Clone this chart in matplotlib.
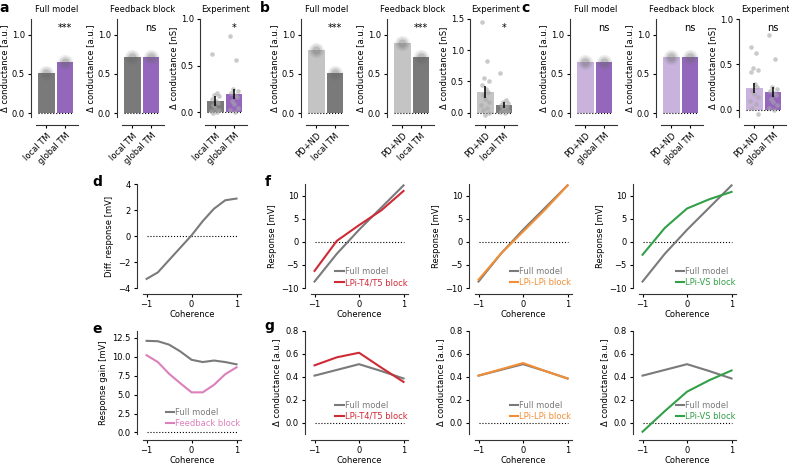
import numpy as np
import matplotlib.pyplot as plt
from matplotlib.transforms import blended_transform_factory

plt.rcParams['font.family'] = 'DejaVu Sans'
plt.rcParams['font.size'] = 6
plt.rcParams['axes.linewidth'] = 0.8
plt.rcParams['xtick.major.size'] = 2.5
plt.rcParams['ytick.major.size'] = 2.5
plt.rcParams['xtick.major.width'] = 0.8
plt.rcParams['ytick.major.width'] = 0.8
plt.rcParams['xtick.major.pad'] = 2
plt.rcParams['ytick.major.pad'] = 2
plt.rcParams['xtick.labelsize'] = 6
plt.rcParams['ytick.labelsize'] = 6
plt.rcParams['axes.labelsize'] = 6
plt.rcParams['axes.edgecolor'] = '#333333'

# ---- data: bar panels
a_labels = ['local TM', 'global TM']
b_labels = ['PD+ND', 'local TM']
c_labels = ['PD+ND', 'global TM']

a_full = [0.51, 0.65]
a_fb = [0.71, 0.71]
a_exp = [0.12, 0.20]
a_exp_err = [0.05, 0.055]
a_exp_pts = [[0.62, 0.21, 0.19, 0.17, 0.14, 0.12, 0.10, 0.08, 0.05, 0.03, 0.01, 0.0, -0.01],
             [0.82, 0.56, 0.25, 0.23, 0.21, 0.19, 0.16, 0.12, 0.09, 0.05, 0.02, 0.0]]

b_full = [0.80, 0.51]
b_fb = [0.89, 0.71]
b_exp = [0.33, 0.12]
b_exp_err = [0.10, 0.05]
b_exp_pts = [[1.45, 0.82, 0.55, 0.50, 0.44, 0.38, 0.33, 0.28, 0.22, 0.17, 0.12, 0.08, 0.04, 0.0, -0.03],
             [0.63, 0.21, 0.17, 0.15, 0.13, 0.11, 0.09, 0.07, 0.05, 0.03, 0.01, 0.0]]

c_full = [0.65, 0.65]
c_fb = [0.71, 0.71]
c_exp = [0.24, 0.20]
c_exp_err = [0.06, 0.055]
c_exp_pts = [[0.69, 0.62, 0.46, 0.44, 0.42, 0.28, 0.25, 0.21, 0.17, 0.14, 0.10, 0.06, 0.02, -0.05],
             [0.82, 0.56, 0.25, 0.23, 0.21, 0.19, 0.16, 0.12, 0.09, 0.05, 0.02, 0.0]]

# ---- data: coherence panels
coh9 = [-1, -0.75, -0.5, -0.25, 0, 0.25, 0.5, 0.75, 1]
d_diff = [-3.3, -2.8, -1.85, -0.9, 0.05, 1.15, 2.1, 2.75, 2.88]
e_full = [12.1, 12.05, 11.6, 10.7, 9.6, 9.3, 9.5, 9.3, 9.0]
e_fb = [10.2, 9.3, 7.75, 6.5, 5.3, 5.3, 6.3, 7.7, 8.6]

coh5 = [-1, -0.5, 0, 0.5, 1]
f_full = [-8.6, -2.6, 2.6, 7.4, 12.2]
f_t4t5 = [-6.3, 0.2, 3.6, 6.8, 11.0]
f_lpi = [-8.2, -2.6, 2.2, 7.0, 12.2]
f_vs = [-2.8, 3.0, 7.2, 9.2, 10.8]

g_full = [0.41, 0.46, 0.51, 0.45, 0.385]
g_t4t5 = [0.50, 0.57, 0.61, 0.48, 0.355]
g_lpi = [0.41, 0.465, 0.52, 0.45, 0.385]
g_vs = [-0.08, 0.10, 0.27, 0.37, 0.455]

GRAY = '#7a7a7a'
LGRAY = '#c4c4c4'
PURPLE = '#9467bd'
LPURPLE = '#c9b3dd'
PINK = '#dd7fbb'
RED = '#cf2b36'
ORANGE = '#f28e35'
GREEN = '#32a048'

W, H = 789, 466
fig = plt.figure(figsize=(W / 100, H / 100), dpi=100)


def add_ax(x0, y0, x1, y1):
    return fig.add_axes([x0 / W, 1 - y1 / H, (x1 - x0) / W, (y1 - y0) / H])


def despine(ax, left=5, bottom=8):
    # must run before tick labels are styled: set_position resets the ticks
    for s in ['top', 'right']:
        ax.spines[s].set_visible(False)
    ax.spines['left'].set_position(('outward', left * 0.72))
    ax.spines['bottom'].set_position(('outward', bottom * 0.72))


def bar_panel(ax, vals, colors, labels, title, ylabel, ylim, yticks, sig,
              pts=None, err=None):
    despine(ax, 5, 8)
    x = np.arange(2)
    ax.bar(x, vals, width=0.9, color=colors, zorder=1)
    if pts is None:
        for s, a in [(120, 0.10), (75, 0.15), (35, 0.25)]:
            ax.scatter(x, vals, s=s, color='#666666', alpha=a, lw=0, zorder=3)
    else:
        pattern = [-0.2, 0.1, -0.05, 0.22, -0.15, 0.05, 0.15, -0.1, 0.0, 0.2, -0.22, 0.08, -0.12, 0.18, -0.02]
        for xi, p in zip(x, pts):
            off = np.array(pattern[:len(p)])
            ax.scatter(xi + off, p, s=11, color='#a8a8a8', alpha=0.6, lw=0, zorder=3)
        ax.errorbar(x, vals, yerr=err, fmt='none', ecolor='k', elinewidth=1.1, zorder=4)
    ax.plot([-0.45, 1.45], [0, 0], ':', color='k', lw=0.8, zorder=2)
    ax.set_xlim(-0.55, 1.7)
    ax.set_ylim(*ylim)
    ax.set_yticks(yticks)
    ax.set_yticklabels(['%.1f' % t for t in yticks])
    ax.set_xticks(x)
    ax.set_xticklabels(labels, rotation=45, ha='right', rotation_mode='anchor')
    ax.set_title(title, fontsize=6, pad=5)
    ax.set_ylabel(ylabel, labelpad=2)
    tr = blended_transform_factory(ax.transData, ax.transAxes)
    ax.text(1, 0.91, sig, transform=tr, ha='center', va='center', fontsize=7)


groups = [
    (31, a_labels, [GRAY, PURPLE], a_full, a_fb, a_exp, a_exp_pts, a_exp_err,
     ['***', 'ns', '*'], (-0.05, 1.0), [0, 0.5, 1.0]),
    (301, b_labels, [LGRAY, GRAY], b_full, b_fb, b_exp, b_exp_pts, b_exp_err,
     ['***', '***', '*'], (-0.07, 1.5), [0, 0.5, 1.0, 1.5]),
    (570, c_labels, [LPURPLE, PURPLE], c_full, c_fb, c_exp, c_exp_pts, c_exp_err,
     ['ns', 'ns', 'ns'], (-0.08, 1.0), [0, 0.5, 1.0]),
]
for x0, labels, cols, full, fb, exp, pts, err, sigs, elim, eticks in groups:
    starts = [x0, x0 + 86, x0 + 169]
    ax = add_ax(starts[0] + 5, 19, starts[0] + 47, 117)
    bar_panel(ax, full, cols, labels, 'Full model', 'Δ conductance [a.u.]',
              (-0.05, 1.2), [0, 0.5, 1.0], sigs[0])
    ax = add_ax(starts[1] + 5, 19, starts[1] + 47, 117)
    bar_panel(ax, fb, cols, labels, 'Feedback block', 'Δ conductance [a.u.]',
              (-0.05, 1.2), [0, 0.5, 1.0], sigs[1])
    ax = add_ax(starts[2] + 5, 19, starts[2] + 47, 117)
    bar_panel(ax, exp, cols, labels, 'Experiment', 'Δ conductance [nS]',
              elim, eticks, sigs[2], pts=pts, err=err)


def line_style(ax, ylim, yticks, ylabel):
    despine(ax, 6, 6)
    ax.set_xlim(-1.08, 1.1)
    ax.set_xticks([-1, 0, 1])
    ax.set_xticklabels(['−1', '0', '1'])
    ax.set_ylim(*ylim)
    ax.set_yticks(yticks)
    ax.set_xlabel('Coherence', labelpad=0.5)
    ax.set_ylabel(ylabel, labelpad=3)
    ax.plot([-1, 1], [0, 0], ':', color='k', lw=0.8, zorder=1)


def legend(ax, anchor_y=0.0):
    ax.legend(loc='lower right', bbox_to_anchor=(1.0, anchor_y), frameon=False,
              handlelength=1.0, handletextpad=0.1, labelspacing=0.25,
              borderaxespad=0, borderpad=0.1, labelcolor='linecolor', fontsize=6)


# d
ax = add_ax(143, 184, 241, 288)
ax.plot(coh9, d_diff, color=GRAY, lw=1.5)
line_style(ax, (-4, 4), [-4, -2, 0, 2, 4], 'Diff. response [mV]')

# e
ax = add_ax(143, 331, 241, 434)
ax.plot(coh9, e_full, color=GRAY, lw=1.5, label='Full model')
ax.plot(coh9, e_fb, color=PINK, lw=1.5, label='Feedback block')
line_style(ax, (-0.2, 13.4), [0, 2.5, 5, 7.5, 10, 12.5], 'Response gain [mV]')
ax.set_yticklabels(['0.0', '2.5', '5.0', '7.5', '10.0', '12.5'])
legend(ax, 0.05)

# f and g
blocks = [('LPi-T4/T5 block', RED, f_t4t5, g_t4t5),
          ('LPi-LPi block', ORANGE, f_lpi, g_lpi),
          ('LPi-VS block', GREEN, f_vs, g_vs)]
for i, (name, col, fv, gv) in enumerate(blocks):
    x0 = 311 + 164 * i
    ax = add_ax(x0, 184, x0 + 97, 288)
    ax.plot(coh5, f_full, color=GRAY, lw=1.5, label='Full model')
    ax.plot(coh5, fv, color=col, lw=1.5, label=name)
    line_style(ax, (-10, 12.5), [-10, -5, 0, 5, 10], 'Response [mV]')
    legend(ax, 0.0)

    ax = add_ax(x0, 331, x0 + 97, 434)
    ax.plot(coh5, g_full, color=GRAY, lw=1.5, label='Full model')
    ax.plot(coh5, gv, color=col, lw=1.5, label=name)
    line_style(ax, (-0.1, 0.8), [0, 0.2, 0.4, 0.6, 0.8], 'Δ conductance [a.u.]')
    legend(ax, 0.12)

for letter, px, py in [('a', 4, 8), ('b', 265, 8), ('c', 526, 8),
                       ('d', 97, 182), ('e', 97, 329), ('f', 268, 182), ('g', 269, 326)]:
    fig.text(px / W, 1 - py / H, letter, fontsize=10, fontweight='bold',
             ha='center', va='center')

fig.savefig('out.png', dpi=100)
